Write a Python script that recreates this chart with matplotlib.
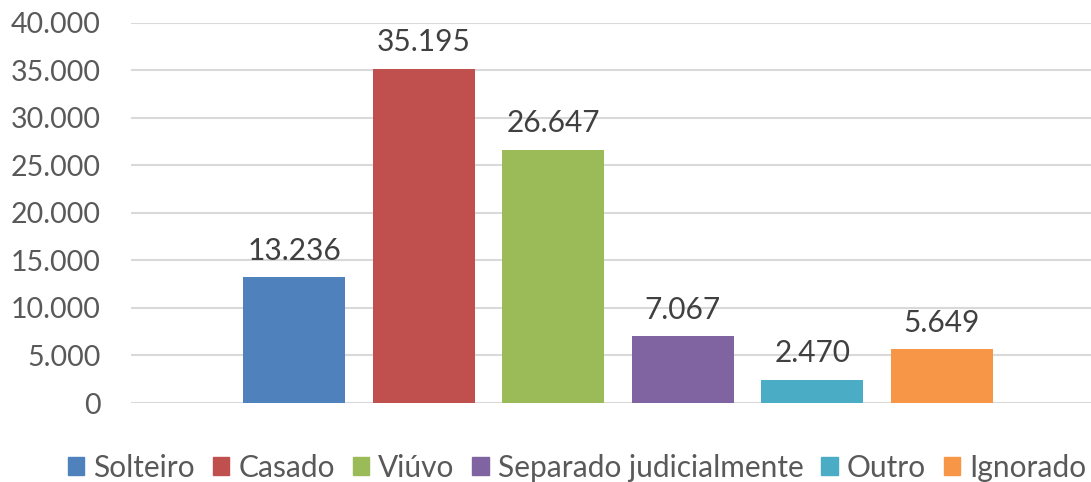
import numpy as np
import matplotlib
matplotlib.use('Agg')
import matplotlib.pyplot as plt
from matplotlib.ticker import FuncFormatter
from matplotlib.patches import Patch

categories = ['Solteiro', 'Casado', 'Viúvo', 'Separado judicialmente', 'Outro', 'Ignorado']
values = [13236, 35195, 26647, 7067, 2470, 5649]
colors = ['#4f81bd', '#c0504d', '#9bbb59', '#8064a2', '#4bacc6', '#f79646']
yticks = [0, 5000, 10000, 15000, 20000, 25000, 30000, 35000, 40000]


def br(v, pos=None):
    return f'{int(v):,}'.replace(',', '.')


plt.rcParams['font.family'] = ['Lato', 'DejaVu Sans']

fig = plt.figure(figsize=(10.91, 4.82), dpi=100)
ax = fig.add_axes([0.1201, 0.1639, 0.8799, 0.7884])

x = np.arange(len(values))
bars = ax.bar(x, values, width=0.787, color=colors, zorder=2)

for bar, v in zip(bars, values):
    ax.text(bar.get_x() + bar.get_width() / 2, v + 1300, br(v),
            ha='center', va='bottom', fontsize=21.5, color='#404040')

ax.set_xlim(-1.258, 6.15)
ax.set_ylim(0, 40000)
ax.set_yticks(yticks)
ax.yaxis.set_major_formatter(FuncFormatter(br))
ax.grid(True, axis='y', color='#d9d9d9', linewidth=1.5, zorder=0)
ax.set_xticks([])
ax.tick_params(axis='y', length=0, labelsize=20.5, labelcolor='#595959', pad=22)
for s in ax.spines.values():
    s.set_visible(False)

handles = [Patch(color=c, label=l) for c, l in zip(colors, categories)]
fig.legend(handles=handles, loc='center', bbox_to_anchor=(0.529, 0.029), ncol=6,
           frameon=False, fontsize=21.5, handlelength=0.55, handleheight=0.55,
           handletextpad=0.3, columnspacing=0.6, labelcolor='#595959')

fig.savefig('out.png', dpi=100)
